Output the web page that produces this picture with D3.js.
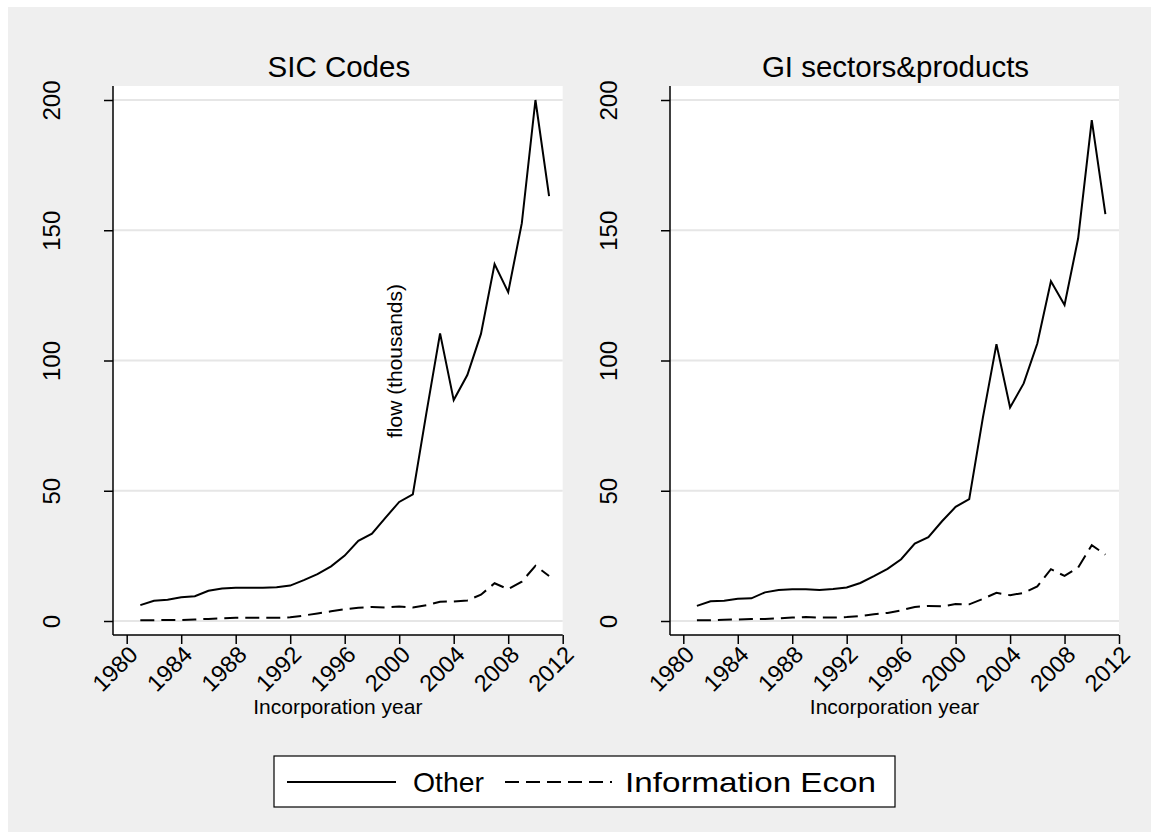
<!DOCTYPE html>
<html lang="en">
<head>
<meta charset="UTF-8">
<title>Flow by incorporation year</title>
<script src="https://d3js.org/d3.v7.min.js"></script>
<style>
  body { margin: 0; background: #fff; }
  text { font-family: "Liberation Sans", Arial, sans-serif; fill: #000; }
  .grid line { stroke: #e6e6e6; stroke-width: 2; }
  .axis path, .axis line { stroke: #000; stroke-width: 1.5; }
  .line { fill: none; stroke: #000; stroke-width: 2; }
  .dashed { stroke-dasharray: 14, 7; }
</style>
</head>
<body>
<script>
// data (flow, thousands)
const years = d3.range(1981, 2012);
const sicOther = [6.1, 7.8, 8.2, 9.1, 9.5, 11.6, 12.5, 12.8, 12.8, 12.8, 13.0, 13.6, 15.7, 18.0, 21.0,
  25.1, 30.8, 33.5, 39.7, 45.7, 48.6, 80.0, 110.4, 84.8, 94.4, 110.2, 137.0, 126.2, 152.7, 200.0, 163.1];
const sicInfo = [0.3, 0.3, 0.4, 0.4, 0.6, 0.8, 1.0, 1.2, 1.2, 1.2, 1.2, 1.4, 2.1, 2.9, 3.7,
  4.5, 5.1, 5.4, 5.2, 5.6, 5.2, 6.1, 7.4, 7.5, 7.9, 10.1, 14.5, 12.2, 15.1, 21.2, 17.3];
const giOther = [5.8, 7.6, 7.8, 8.5, 8.7, 11.0, 11.9, 12.2, 12.2, 11.9, 12.3, 12.9, 14.6, 17.2, 20.0,
  23.7, 29.7, 32.2, 38.3, 43.8, 46.8, 78.0, 106.3, 82.0, 91.2, 106.5, 130.4, 121.3, 146.9, 192.3, 156.2];
const giInfo = [0.3, 0.3, 0.5, 0.6, 0.8, 0.8, 1.0, 1.3, 1.5, 1.3, 1.3, 1.5, 1.9, 2.6, 3.1,
  4.1, 5.4, 5.8, 5.6, 6.5, 6.4, 8.5, 10.8, 9.9, 10.8, 13.3, 19.9, 17.3, 20.5, 29.1, 25.5];
const xTicks = d3.range(1980, 2013, 4);
const yTicks = [0, 50, 100, 150, 200];
const panelTitles = ["SIC Codes", "GI sectors&products"];
const seriesNames = ["Other", "Information Econ"];

const W = 1151, H = 832;
const svg = d3.select("body").append("svg")
  .attr("width", W).attr("height", H);

svg.append("rect").attr("x", 8).attr("y", 7)
  .attr("width", W - 8).attr("height", H - 7).attr("fill", "#efefef");

const y = d3.scaleLinear().domain([0, 200]).range([621, 100]);
const plotTop = 86, plotBottom = 635;

const panels = [
  { title: panelTitles[0], other: sicOther, info: sicInfo, left: 113, x0: 126.7, x1: 562.7 },
  { title: panelTitles[1], other: giOther, info: giInfo, left: 670, x0: 683.3, x1: 1119 }
];

panels.forEach((p, i) => {
  const x = d3.scaleLinear().domain([1980, 2012]).range([p.x0, p.x1]);
  const g = svg.append("g");

  g.append("rect")
    .attr("x", p.left).attr("y", plotTop)
    .attr("width", p.x1 - p.left).attr("height", plotBottom - plotTop)
    .attr("fill", "#fff");

  g.append("g").attr("class", "grid")
    .selectAll("line").data(yTicks).join("line")
    .attr("x1", p.left).attr("x2", p.x1)
    .attr("y1", d => y(d)).attr("y2", d => y(d));

  // y axis
  const ya = g.append("g").attr("class", "axis")
    .attr("transform", `translate(${p.left},0)`)
    .call(d3.axisLeft(y).tickValues(yTicks).tickSize(9).tickSizeOuter(0));
  ya.select(".domain").attr("d", `M0,${plotTop}V${plotBottom}`);
  ya.selectAll("text")
    .attr("font-size", 24)
    .attr("text-anchor", "middle")
    .attr("x", null).attr("y", null).attr("dy", null)
    .attr("transform", "translate(-53,0) rotate(-90)");

  // x axis
  const xa = g.append("g").attr("class", "axis")
    .attr("transform", `translate(0,${plotBottom})`)
    .call(d3.axisBottom(x).tickValues(xTicks).tickFormat(d3.format("d")).tickSize(9).tickSizeOuter(0));
  xa.select(".domain").attr("d", `M${p.left},0H${p.x1}`);
  xa.selectAll("text")
    .attr("font-size", 23.5)
    .attr("text-anchor", "end")
    .attr("y", 0).attr("dy", null)
    .attr("transform", "translate(12,21) rotate(-45)");

  g.append("text")
    .attr("x", (p.left + p.x1) / 2).attr("y", 714)
    .attr("text-anchor", "middle").attr("font-size", 21)
    .text("Incorporation year");

  g.append("text")
    .attr("x", (p.left + p.x1) / 2 + 1).attr("y", 77)
    .attr("text-anchor", "middle").attr("font-size", 29.5)
    .text(p.title);

  const line = d3.line().x((d, j) => x(years[j])).y(d => y(d));
  g.append("path").attr("class", "line").attr("d", line(p.other));
  g.append("path").attr("class", "line dashed").attr("d", line(p.info));
});

// axis title lands inside left panel, as in the reference
svg.append("text")
  .attr("transform", "translate(402,361) rotate(-90)")
  .attr("text-anchor", "middle").attr("font-size", 21)
  .text("flow (thousands)");

// legend
const lg = svg.append("g");
lg.append("rect").attr("x", 274).attr("y", 756)
  .attr("width", 621).attr("height", 51)
  .attr("fill", "#fff").attr("stroke", "#000").attr("stroke-width", 1.2);
const legendItems = [
  { name: seriesNames[0], cls: "line", lx0: 287, lx1: 396, tx: 413, len: 71 },
  { name: seriesNames[1], cls: "line dashed", lx0: 505, lx1: 612, tx: 625, len: 251 }
];
legendItems.forEach(it => {
  lg.append("line").attr("class", it.cls)
    .attr("x1", it.lx0).attr("x2", it.lx1).attr("y1", 782).attr("y2", 782);
  lg.append("text").attr("x", it.tx).attr("y", 792)
    .attr("font-size", 28.5)
    .attr("textLength", it.len).attr("lengthAdjust", "spacingAndGlyphs")
    .text(it.name);
});
</script>
</body>
</html>
